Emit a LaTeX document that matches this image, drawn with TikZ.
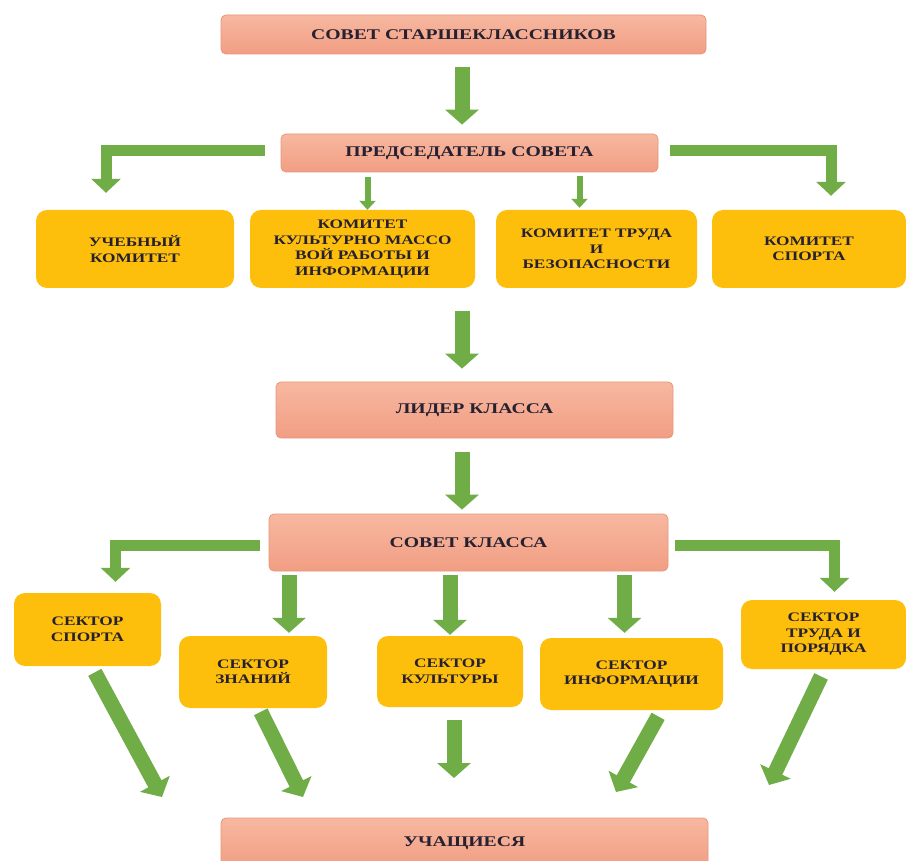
\documentclass[tikz,border=0pt]{standalone}
\usepackage{fontspec}
\usepackage{xcolor}
\usepackage{tikz}
\usetikzlibrary{arrows.meta}
\newfontfamily\boxfont{Liberation Serif}[FakeStretch=1.33]
\definecolor{salmontop}{HTML}{F7B8A0}
\definecolor{salmonbot}{HTML}{F19E83}
\definecolor{salmonline}{HTML}{E8967B}
\definecolor{boxyellow}{HTML}{FDBF0C}
\definecolor{arrowgreen}{HTML}{70AD47}
\definecolor{boxtext}{HTML}{262030}
\tikzset{
  salmonbox/.style={draw=salmonline,line width=0.8pt,rounded corners=5pt,top color=salmontop,bottom color=salmonbot,
    text=boxtext,font={\boxfont\bfseries\fontsize{14.8}{16}\selectfont}},
  yellowbox/.style={fill=boxyellow,rounded corners=11pt,align=center,text=boxtext,
    font={\boxfont\bfseries\fontsize{13}{15.5}\selectfont}},
  bigarrow/.style={draw=arrowgreen,line width=15pt,-{Triangle[width=33pt,length=15pt]}},
  elbowarrow/.style={draw=arrowgreen,line width=11pt,-{Triangle[width=29pt,length=14pt]}},
  smallarrow/.style={draw=arrowgreen,line width=6pt,-{Triangle[width=16pt,length=9pt]}}
}

\begin{document}
\begin{tikzpicture}[x=1pt,y=-1pt]
\fill[white] (0,0) rectangle (906,861);
\useasboundingbox (0,0) rectangle (906,861);
\coordinate (axis) at (462,0);

\node[salmonbox,minimum width=485pt,minimum height=39pt] (sovetst) at (463.5,34.5) {СОВЕТ СТАРШЕКЛАССНИКОВ};
\node[salmonbox,minimum width=377pt,minimum height=38pt] (predsedatel) at (469.5,153) {ПРЕДСЕДАТЕЛЬ СОВЕТА};

\node[yellowbox,minimum width=198pt,minimum height=78pt] (uchebny) at (135,249) {УЧЕБНЫЙ\\КОМИТЕТ};
\node[yellowbox,minimum width=225pt,minimum height=78pt] (kultura) at (362.5,249) {КОМИТЕТ\\КУЛЬТУРНО МАССО\\ВОЙ РАБОТЫ И\\ИНФОРМАЦИИ};
\node[yellowbox,minimum width=201pt,minimum height=78pt] (trud) at (596.5,249) {КОМИТЕТ ТРУДА\\И\\БЕЗОПАСНОСТИ};
\node[yellowbox,minimum width=194pt,minimum height=78pt] (sport) at (809,249) {КОМИТЕТ\\СПОРТА};

\node[salmonbox,minimum width=397pt,minimum height=56pt] (lider) at (474.5,410) {ЛИДЕР КЛАССА};
\node[salmonbox,minimum width=399pt,minimum height=57pt] (sovetkl) at (468.5,542.5) {СОВЕТ КЛАССА};

\node[yellowbox,minimum width=147pt,minimum height=73pt] (sspport) at (87.5,629.5) {СЕКТОР\\СПОРТА};
\node[yellowbox,minimum width=148pt,minimum height=72pt] (znaniy) at (253,672) {СЕКТОР\\ЗНАНИЙ};
\node[yellowbox,minimum width=146pt,minimum height=71pt] (kultury) at (450,671.5) {СЕКТОР\\КУЛЬТУРЫ};
\node[yellowbox,minimum width=183pt,minimum height=72pt] (inform) at (631.5,674) {СЕКТОР\\ИНФОРМАЦИИ};
\node[yellowbox,minimum width=165pt,minimum height=69pt] (poryadok) at (823.5,634.5) {СЕКТОР\\ТРУДА И\\ПОРЯДКА};

\node[salmonbox,minimum width=487pt,minimum height=50pt] (uchashiesya) at (464.5,843) {УЧАЩИЕСЯ};

\coordinate (t1) at (162,797);
\coordinate (t2) at (303,797);
\coordinate (t3) at (454,778);
\coordinate (t4) at (616,792);
\coordinate (t5) at (769,785);

\draw[bigarrow,shorten <=13pt,shorten >=9pt] (axis |- sovetst.south) -- (axis |- predsedatel.north);
\draw[elbowarrow,shorten >=17pt] ([xshift=-16pt,yshift=2pt]predsedatel.west) -| ([xshift=-29pt]uchebny.north);
\draw[elbowarrow,shorten >=14pt] ([xshift=12pt,yshift=2pt]predsedatel.east) -| ([xshift=22pt]sport.north);
\draw[smallarrow,shorten <=5pt] ([xshift=5pt]kultura.north |- predsedatel.south) -- ([xshift=5pt]kultura.north);
\draw[smallarrow,shorten <=4pt,shorten >=2pt] ([xshift=-17pt]trud.north |- predsedatel.south) -- ([xshift=-17pt]trud.north);

\draw[bigarrow,shorten <=23pt,shorten >=13pt] (axis |- kultura.south) -- (axis |- lider.north);
\draw[bigarrow,shorten <=14pt,shorten >=4pt] (axis |- lider.south) -- (axis |- sovetkl.north);

\draw[elbowarrow,shorten >=11pt] ([xshift=-9pt,yshift=-3pt]sovetkl.west) -| ([xshift=28pt]sspport.north);
\draw[elbowarrow,shorten >=8pt] ([xshift=7pt,yshift=-3pt]sovetkl.east) -| ([xshift=11pt]poryadok.north);
\draw[bigarrow,shorten <=4pt,shorten >=3pt] ([xshift=36pt]znaniy.north |- sovetkl.south) -- ([xshift=36pt]znaniy.north);
\draw[bigarrow,shorten <=4pt,shorten >=1pt] (kultury.north |- sovetkl.south) -- (kultury.north);
\draw[bigarrow,shorten <=4pt,shorten >=5pt] ([xshift=-7pt]inform.north |- sovetkl.south) -- ([xshift=-7pt]inform.north);

\draw[bigarrow,shorten <=7pt] ([xshift=4pt]sspport.south) -- (t1);
\draw[bigarrow,shorten <=4pt] ([xshift=6pt]znaniy.south) -- (t2);
\draw[bigarrow,shorten <=13pt] ([xshift=4pt]kultury.south) -- (t3);
\draw[bigarrow,shorten <=7pt] ([xshift=30pt]inform.south) -- (t4);
\draw[bigarrow,shorten <=8pt] ([xshift=1pt]poryadok.south) -- (t5);
\end{tikzpicture}
\end{document}
